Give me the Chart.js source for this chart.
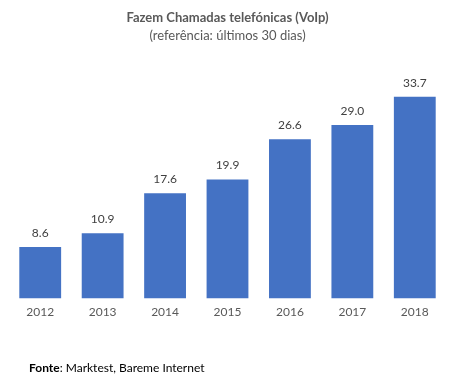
<!DOCTYPE html>
<html><head><meta charset="utf-8">
<script src="https://cdn.jsdelivr.net/npm/chart.js@4"></script>
<style>
html,body{margin:0;padding:0;background:#fff;}
#wrap{position:relative;width:454px;height:385px;}
#foot{position:absolute;left:29px;top:360px;font:12px Lato, sans-serif;color:#000;}
</style></head>
<body><div id="wrap"><canvas id="c" width="454" height="385"></canvas>
<div id="foot"><b>Fonte</b>: Marktest, Bareme Internet</div></div>
<script>
const categories = ['2012','2013','2014','2015','2016','2017','2018'];
const values = [8.6, 10.9, 17.6, 19.9, 26.6, 29.0, 33.7];
const titleText = 'Fazem Chamadas telefónicas (VoIp)';
const subtitleText = '(referência: últimos 30 dias)';

const labelPlugin = {
  id: 'labels',
  afterDatasetsDraw(chart) {
    const ctx = chart.ctx;
    const meta = chart.getDatasetMeta(0);
    ctx.save();
    ctx.font = '12px Lato, sans-serif';
    ctx.fillStyle = '#404040';
    ctx.textAlign = 'center';
    ctx.textBaseline = 'middle';
    meta.data.forEach((bar, i) => {
      ctx.fillText(values[i].toFixed(1), bar.x, bar.y - 14);
    });
    ctx.restore();
  }
};

new Chart(document.getElementById('c'), {
  type: 'bar',
  data: { labels: categories, datasets: [{ data: values, backgroundColor: '#4472C4', categoryPercentage: 1, barPercentage: 0.67 }] },
  options: {
    responsive: false, animation: false,
    layout: { padding: { left: 9, right: 8, top: 0, bottom: 68 } },
    plugins: {
      legend: { display: false }, tooltip: { enabled: false },
      title: { display: true, text: titleText, color: '#595959', font: { family: 'Lato', size: 13, weight: 'bold' }, padding: { top: 10, bottom: 2 } },
      subtitle: { display: true, text: subtitleText, color: '#595959', font: { family: 'Lato', size: 13 }, padding: { bottom: 20 } }
    },
    scales: {
      x: { grid: { display: false }, border: { display: false }, ticks: { color: '#595959', font: { family: 'Lato', size: 12 }, padding: -2 } },
      y: { display: false, min: 0, max: 39.3 }
    }
  },
  plugins: [labelPlugin]
});
</script></body></html>
